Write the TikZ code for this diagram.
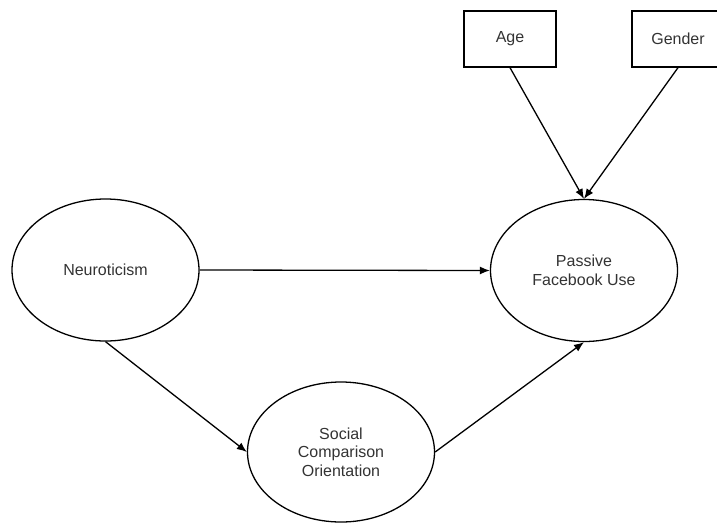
\documentclass[tikz,border=0pt]{standalone}
\usepackage{fontspec}
\setmainfont{Liberation Sans}
\usetikzlibrary{shapes.geometric, arrows.meta}

\begin{document}
\begin{tikzpicture}[x=1pt, y=-1pt,
    latent/.style={draw, ellipse, line width=1.3pt, minimum width=187pt, minimum height=142pt,
        inner sep=0pt, align=center, font=\fontsize{16}{18.5}\selectfont, text=black!80},
    covar/.style={draw, rectangle, line width=1.3pt, minimum width=92pt, minimum height=56pt,
        inner sep=0pt, font=\fontsize{16}{18.5}\selectfont, text=black!80},
    link/.style={-{Latex[length=10pt,width=8pt]}, line width=1.3pt}]
        \useasboundingbox (0,0) rectangle (717,523);

        \node[latent] (neuro) at (105.5,270) {Neuroticism};
        \node[latent] (pfu) at (584,270.5) {Passive\\Facebook Use};
        \node[latent, minimum height=140pt] (sco) at (341,452) {Social\\Comparison\\Orientation};

        \node[covar] (age) at (510,39) {Age};
        \node[covar] (gender) at (678,39) {Gender};

        \draw[link] (neuro.east) -- (pfu.west);
        \draw[link] (neuro.south) -- (sco.west);
        \draw[link] (sco.east) -- (pfu.south);
        \draw[link] (age.south) -- (pfu.north);
        \draw[link] (gender.south) -- (pfu.north);
    \end{tikzpicture}
\end{document}
